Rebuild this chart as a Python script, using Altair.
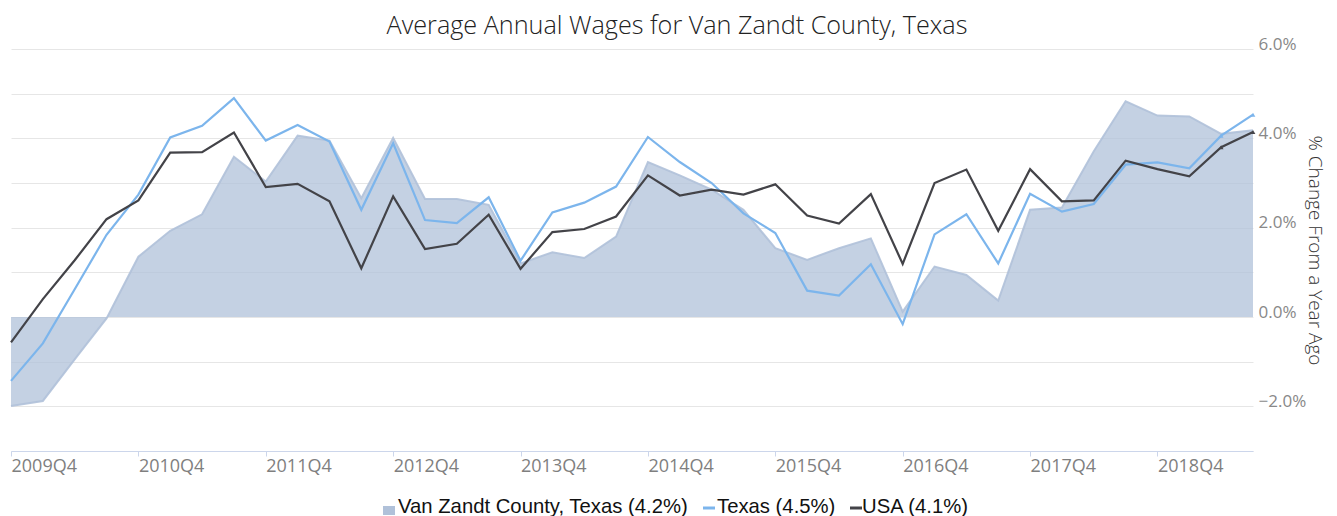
import altair as alt
import pandas as pd

quarters = [
    "2009Q4",
    "2010Q1", "2010Q2", "2010Q3", "2010Q4",
    "2011Q1", "2011Q2", "2011Q3", "2011Q4",
    "2012Q1", "2012Q2", "2012Q3", "2012Q4",
    "2013Q1", "2013Q2", "2013Q3", "2013Q4",
    "2014Q1", "2014Q2", "2014Q3", "2014Q4",
    "2015Q1", "2015Q2", "2015Q3", "2015Q4",
    "2016Q1", "2016Q2", "2016Q3", "2016Q4",
    "2017Q1", "2017Q2", "2017Q3", "2017Q4",
    "2018Q1", "2018Q2", "2018Q3", "2018Q4",
    "2019Q1", "2019Q2", "2019Q3",
]

van_zandt = [-1.99, -1.88, -0.95, -0.03, 1.35, 1.93, 2.30, 3.59, 3.03, 4.06,
             3.95, 2.66, 4.01, 2.64, 2.64, 2.51, 1.20, 1.45, 1.32, 1.80,
             3.47, 3.17, 2.85, 2.40, 1.54, 1.28, 1.54, 1.76, 0.12, 1.13,
             0.94, 0.37, 2.40, 2.45, 3.71, 4.83, 4.51, 4.49, 4.10, 4.18]

texas = [-1.43, -0.59, 0.62, 1.84, 2.74, 4.02, 4.28, 4.90, 3.95, 4.30,
         3.93, 2.40, 3.89, 2.17, 2.10, 2.68, 1.26, 2.34, 2.56, 2.92,
         4.03, 3.47, 3.00, 2.32, 1.88, 0.59, 0.48, 1.18, -0.16, 1.85,
         2.30, 1.20, 2.76, 2.36, 2.53, 3.41, 3.46, 3.33, 4.06, 4.53]

usa = [-0.57, 0.40, 1.27, 2.19, 2.61, 3.68, 3.69, 4.13, 2.91, 2.98,
       2.59, 1.09, 2.70, 1.52, 1.64, 2.29, 1.08, 1.90, 1.97, 2.25,
       3.17, 2.72, 2.85, 2.74, 2.97, 2.27, 2.09, 2.75, 1.19, 3.00,
       3.30, 1.93, 3.31, 2.59, 2.61, 3.50, 3.31, 3.15, 3.80, 4.14]

title_text = "Average Annual Wages for Van Zandt County, Texas"
legend_labels = ["Van Zandt County, Texas (4.2%)", "Texas (4.5%)", "USA (4.1%)"]
tick_quarters = [q for q in quarters if q.endswith("Q4")]

AREA_C = "#b0c1d9"
TX_C = "#7cb5ec"
US_C = "#434348"
FONT = "Open Sans"

df = pd.DataFrame({
    "quarter": quarters,
    "idx": list(range(len(quarters))),
    "vz": van_zandt,
    "tx": texas,
    "us": usa,
})

x_enc = alt.X(
    "quarter:O",
    sort=quarters,
    scale=alt.Scale(type="point", padding=0),
    axis=alt.Axis(
        values=tick_quarters,
        title=None,
        labelAngle=0,
        labelAlign="left",
        labelBaseline="top",
        labelFont=FONT,
        labelFontSize=18,
        labelColor="#7f7f7f",
        labelPadding=1,
        domainColor="#ccd6eb",
        tickColor="#ccd6eb",
        tickSize=5,
        grid=False,
    ),
)
y_scale = alt.Scale(domain=[-3, 6], nice=False, zero=False)
y_axis = alt.Axis(
    orient="right",
    values=list(range(-3, 7)),
    labelExpr="datum.value % 2 == 0 ? format(datum.value, '.1f') + '%' : ''",
    grid=True,
    gridColor="#e6e6e6",
    gridWidth=1,
    domain=False,
    ticks=False,
    labelFont=FONT,
    labelFontSize=17,
    labelColor="#888888",
    labelAlign="left",
    labelBaseline="alphabetic",
    labelPadding=5,
    title="% Change From a Year Ago",
    titleFont=FONT,
    titleFontWeight=300,
    titleFontSize=19,
    titleColor="#333333",
    titleAngle=90,
    titleAlign="center",
    titleBaseline="middle",
    titleX=61,
    titleY=201,
)

base = alt.Chart(df)

area = base.mark_area(
    fill=AREA_C, fillOpacity=0.75,
    line=alt.OverlayMarkDef(color=AREA_C, strokeWidth=2, opacity=0.9),
).encode(
    x=x_enc,
    y=alt.Y("vz:Q", scale=y_scale, axis=y_axis),
    y2=alt.datum(0),
)

tx_line = base.mark_line(color=TX_C, strokeWidth=2.2).encode(
    x=x_enc, y=alt.Y("tx:Q", scale=y_scale, axis=y_axis)
)
us_line = base.mark_line(color=US_C, strokeWidth=2.2).encode(
    x=x_enc, y=alt.Y("us:Q", scale=y_scale, axis=y_axis)
)
tx_pts = base.mark_point(shape="triangle-up", filled=True, size=22, color=TX_C, opacity=1).encode(
    x=x_enc, y=alt.Y("tx:Q", scale=y_scale, axis=y_axis)
).transform_filter("datum.idx >= 38")
us_pts = base.mark_point(shape="triangle-up", filled=True, size=22, color=US_C, opacity=1).encode(
    x=x_enc, y=alt.Y("us:Q", scale=y_scale, axis=y_axis)
).transform_filter("datum.idx >= 38")

# title as text
title_mark = alt.Chart(pd.DataFrame({"label": [title_text]})).mark_text(
    font=FONT, fontWeight=300, fontSize=25.2, color="#222222",
    align="center", baseline="alphabetic",
).encode(x=alt.value(666), y=alt.value(-15), text="label:N")

# manual legend
def leg_text(label, xpos):
    return alt.Chart(pd.DataFrame({"label": [label]})).mark_text(
        font="Liberation Sans", fontSize=20.3, color="#111111",
        align="left", baseline="alphabetic",
    ).encode(x=alt.value(xpos), y=alt.value(464), text="label:N")

leg_sq = alt.Chart(pd.DataFrame({"label": [legend_labels[0]]})).mark_rect(color=AREA_C).encode(
    x=alt.value(372), x2=alt.value(384), y=alt.value(457), y2=alt.value(466)
)
leg_tx = alt.Chart(pd.DataFrame({"label": [legend_labels[1]]})).mark_rule(color=TX_C, strokeWidth=3).encode(
    x=alt.value(692), x2=alt.value(704), y=alt.value(459)
)
leg_us = alt.Chart(pd.DataFrame({"label": [legend_labels[2]]})).mark_rule(color=US_C, strokeWidth=3).encode(
    x=alt.value(839), x2=alt.value(851), y=alt.value(459)
)

chart = alt.layer(
    area, tx_line, us_line, tx_pts, us_pts, title_mark,
    leg_sq, leg_text(legend_labels[0], 387),
    leg_tx, leg_text(legend_labels[1], 706),
    leg_us, leg_text(legend_labels[2], 851),
).properties(
    width=1242,
    height=402,
    padding={"left": 3, "top": 41, "right": 76, "bottom": 65},
    autosize=alt.AutoSizeParams(type="none"),
).configure_view(stroke=None)

chart.save("out.html", embed_options={"renderer": "svg", "actions": False})
